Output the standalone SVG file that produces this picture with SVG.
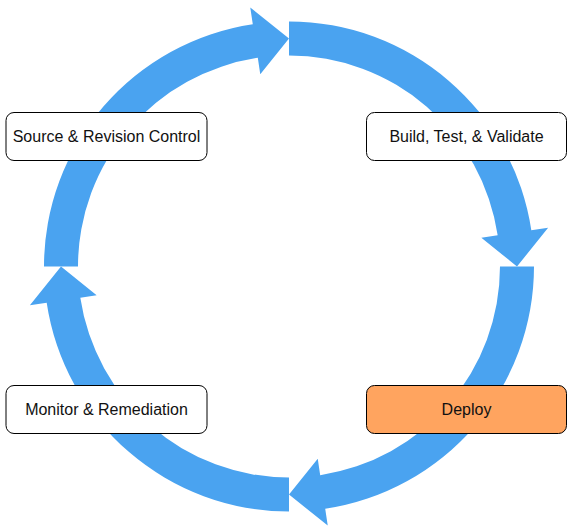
<svg xmlns="http://www.w3.org/2000/svg" xmlns:xlink="http://www.w3.org/1999/xlink" width="572" height="531" viewBox="0 0 572 531">
<style>
.arc{fill:#4AA3F0;stroke:none}
.box{fill:#ffffff;stroke:#000000;stroke-width:1}
.hl{fill:#FFA45F}
.lbl{font-family:"Liberation Sans",Arial,Helvetica,sans-serif;font-size:16px;fill:#111111;text-anchor:middle}
</style>
<defs>
<path id="arcArrow" d="M289,21.5 A245,245 0 0 1 531.31,230.29 L548.12,227.77 L517,266.5 L481.36,237.75 L497.68,235.31 A211,211 0 0 0 289,55.5 Z"/>
</defs>
<rect width="572" height="531" fill="#ffffff"/>
<g id="connectors">
<use xlink:href="#arcArrow" href="#arcArrow" class="arc"/>
<use xlink:href="#arcArrow" href="#arcArrow" class="arc" transform="rotate(90 289 266.5)"/>
<use xlink:href="#arcArrow" href="#arcArrow" class="arc" transform="rotate(180 289 266.5)"/>
<use xlink:href="#arcArrow" href="#arcArrow" class="arc" transform="rotate(270 289 266.5)"/>
</g>
<g id="source">
<rect class="box" x="6" y="112.5" width="201" height="48" rx="8"/>
<text class="lbl" x="106.5" y="142.2">Source &amp; Revision Control</text>
</g>
<g id="build">
<rect class="box" x="366.5" y="112.5" width="200" height="48" rx="8"/>
<text class="lbl" x="466.5" y="142.2">Build, Test, &amp; Validate</text>
</g>
<g id="deploy">
<rect class="box hl" x="366.5" y="385.5" width="200" height="48" rx="8"/>
<text class="lbl" x="466.5" y="415.2">Deploy</text>
</g>
<g id="monitor">
<rect class="box" x="6" y="385.5" width="201" height="48" rx="8"/>
<text class="lbl" x="106.5" y="415.2">Monitor &amp; Remediation</text>
</g>
</svg>
